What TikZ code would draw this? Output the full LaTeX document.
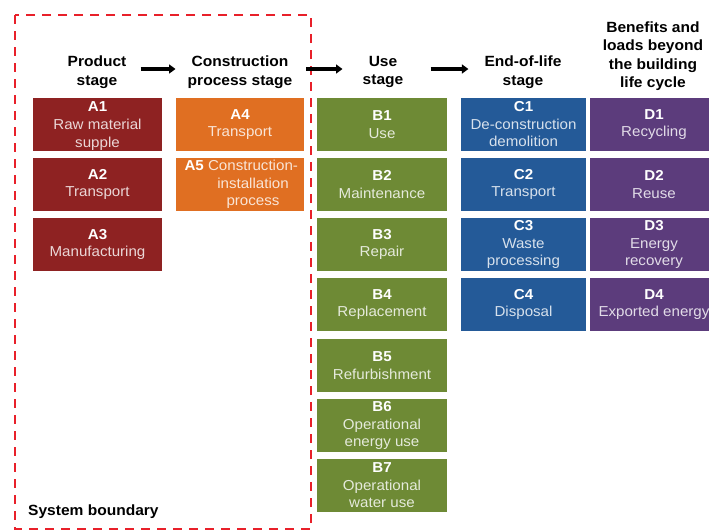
\documentclass[tikz,border=0pt]{standalone}
\usepackage{fontspec}
\setmainfont[FakeStretch=1.05]{Liberation Sans}
\usetikzlibrary{arrows.meta}
\definecolor{cA}{HTML}{8E2222}
\definecolor{cAo}{HTML}{E06F22}
\definecolor{cB}{HTML}{6E8A35}
\definecolor{cC}{HTML}{245A98}
\definecolor{cD}{HTML}{5C3C7C}
\definecolor{bred}{HTML}{E8202A}
\newcommand\boxlbl[1]{{\bfseries\color{white}#1}}
\begin{document}
\begin{tikzpicture}[x=1pt,y=-1pt,
  box/.style={minimum height=53pt, inner sep=0pt, fill=#1, text=white!82!#1, align=center,
              font=\fontsize{14.4}{17.5}\selectfont},
  boxtext/.style={inner sep=0pt, align=center, font=\fontsize{14.4}{17.5}\selectfont},
  hdr/.style={align=center, font=\fontsize{14.8}{18.5}\selectfont\bfseries, inner sep=0pt},
  arr/.style={line width=3.2pt, -{Triangle[length=6.5pt,width=9pt]}},
  boundary/.style={draw=bred, line width=2.6pt, dash pattern=on 9pt off 7pt}]
\useasboundingbox (0,0) rectangle (709,531);
\clip (0,0) rectangle (709,531);
\fill[white] (0,0) rectangle (709,531);

% system boundary
\draw[boundary] (15,15) rectangle (311,529);
\node[anchor=base west, inner sep=0pt, font=\fontsize{14.8}{17}\selectfont\bfseries] (sbl) at (28,515) {System boundary};

% headers
\node[hdr] (hA) at (97,72) {Product\\stage};
\node[hdr] (hA2) at (240,72) {Construction\\process stage};
\node[hdr] (hB) at (383,72) {Use\\stage};
\node[hdr] (hC) at (523,72) {End-of-life\\stage};
\node[hdr] (hD) at (653,56) {Benefits and\\loads beyond\\the building\\life cycle};

\draw[arr] ([shift={(14,-3)}]hA.east) -- ([shift={(-12,-3)}]hA2.west);
\draw[arr] ([shift={(14,-3)}]hA2.east) -- ([shift={(-20,-3)}]hB.west);
\draw[arr] ([shift={(27,-3)}]hB.east) -- ([shift={(-16,-3)}]hC.west);

% A column
\node[box=cA, minimum width=129pt] (a1) at (97.5,124.5) {};
\node[boxtext, text=white!82!cA, font=\fontsize{14.4}{18.2}\selectfont] (a1t) at (97.5,126) {\boxlbl{A1}\\Raw material\\supple};
\node[box=cA, minimum width=129pt] (a2) at (97.5,184.5) {\boxlbl{A2}\\Transport};
\node[box=cA, minimum width=129pt] (a3) at (97.5,244.5) {\boxlbl{A3}\\Manufacturing};
\node[box=cAo, minimum width=128pt] (a4) at (240,124.5) {\boxlbl{A4}\\Transport};
\node[box=cAo, minimum width=128pt] (a5) at (240,184.5) {};
\node[boxtext, text=white!82!cAo] (a5t) at (253,184.5) {\llap{\boxlbl{A5} }Construction-\\installation\\process};

% B column
\node[box=cB, minimum width=130pt] (b1) at (382,124.5) {\boxlbl{B1}\\Use};
\node[box=cB, minimum width=130pt] (b2) at (382,184.5) {\boxlbl{B2}\\Maintenance};
\node[box=cB, minimum width=130pt] (b3) at (382,244.5) {\boxlbl{B3}\\Repair};
\node[box=cB, minimum width=130pt] (b4) at (382,304.5) {\boxlbl{B4}\\Replacement};
\node[box=cB, minimum width=130pt] (b5) at (382,365.5) {\boxlbl{B5}\\Refurbishment};
\node[box=cB, minimum width=130pt] (b6) at (382,425.5) {\boxlbl{B6}\\Operational\\energy use};
\node[box=cB, minimum width=130pt] (b7) at (382,485.5) {\boxlbl{B7}\\Operational\\water use};

% C column
\node[box=cC, minimum width=125pt] (c1) at (523.5,124.5) {\boxlbl{C1}\\De-construction\\demolition};
\node[box=cC, minimum width=125pt] (c2) at (523.5,184.5) {\boxlbl{C2}\\Transport};
\node[box=cC, minimum width=125pt] (c3) at (523.5,244.5) {\boxlbl{C3}\\Waste\\processing};
\node[box=cC, minimum width=125pt] (c4) at (523.5,304.5) {\boxlbl{C4}\\Disposal};

% D column
\node[box=cD, minimum width=128pt] (d1) at (654,124.5) {\boxlbl{D1}\\Recycling};
\node[box=cD, minimum width=128pt] (d2) at (654,184.5) {\boxlbl{D2}\\Reuse};
\node[box=cD, minimum width=128pt] (d3) at (654,244.5) {\boxlbl{D3}\\Energy\\recovery};
\node[box=cD, minimum width=128pt] (d4) at (654,304.5) {\boxlbl{D4}\\Exported energy};
\end{tikzpicture}
\end{document}
